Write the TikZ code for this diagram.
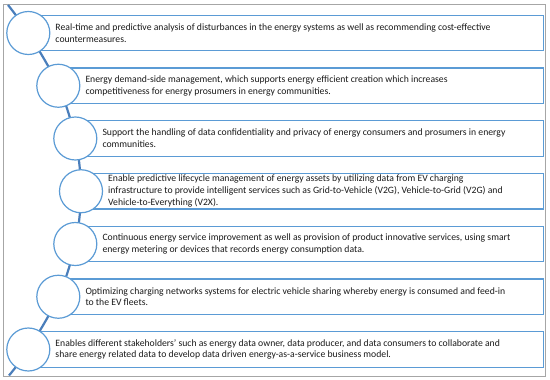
\documentclass[tikz,border=0pt]{standalone}
\usepackage{fontspec}
\setmainfont{Carlito}
\usetikzlibrary{positioning}
\definecolor{cardblue}{HTML}{5B9BD5}
\definecolor{spineblue}{HTML}{4A7EBB}
\definecolor{framegray}{HTML}{A6A6A6}
\definecolor{notegray}{HTML}{1A1A1A}
\begin{document}
\begin{tikzpicture}[
  x=1pt, y=-1pt,
  frame/.style={draw=framegray, line width=1pt},
  card/.style={rectangle, draw=cardblue, fill=white, line width=1.2pt,
               anchor=west, minimum height=35.5pt, inner sep=0pt},
  bead/.style={circle, draw=cardblue, fill=white, line width=1.2pt,
               minimum size=43pt, inner sep=0pt},
  spine/.style={draw=spineblue, line width=2.2pt},
  note/.style={align=left, inner sep=0pt, text=notegray,
               font=\fontsize{9.7}{11.8}\selectfont}
]
\useasboundingbox (0,0) rectangle (550,380);
\draw[frame] (3.5,4) rectangle (545,376.5);

\coordinate (top) at (8,5);
\coordinate (bot) at (9,375.5);
\coordinate (p1) at (28.3,33);
\coordinate (p2) at (58.3,85.75);
\coordinate (p3) at (75.3,138.5);
\coordinate (p4) at (81,191.25);
\coordinate (p5) at (75.3,244);
\coordinate (p6) at (58.3,296.75);
\coordinate (p7) at (28.3,349.5);

\node[card, minimum width=514.7pt] (b1) at (p1) {};
\node[card, minimum width=484.7pt] (b2) at (p2) {};
\node[card, minimum width=467.7pt] (b3) at (p3) {};
\node[card, minimum width=462pt] (b4) at (p4) {};
\node[card, minimum width=467.7pt] (b5) at (p5) {};
\node[card, minimum width=484.7pt] (b6) at (p6) {};
\node[card, minimum width=514.7pt] (b7) at (p7) {};

\draw[spine] plot[smooth, tension=0.55] coordinates
  {(top) (p1) (p2) (p3) (p4) (p5) (p6) (p7) (bot)};

\node[bead] (c1) at (p1) {};
\node[bead] (c2) at (p2) {};
\node[bead] (c3) at (p3) {};
\node[bead] (c4) at (p4) {};
\node[bead] (c5) at (p5) {};
\node[bead] (c6) at (p6) {};
\node[bead] (c7) at (p7) {};

\node[note, right=27pt of p1] (t1) {Real-time and predictive analysis of disturbances in the energy systems as well as recommending cost-effective\\ countermeasures.};
\node[note, right=27pt of p2] (t2) {Energy demand-side management, which supports energy efficient creation which increases\\ competitiveness for energy prosumers in energy communities.};
\node[note, right=27pt of p3] (t3) {Support the handling of data confidentiality and privacy of energy consumers and prosumers in energy\\ communities.};
\node[note, right=27pt of p4] (t4) {Enable predictive lifecycle management of energy assets by utilizing data from EV charging\\ infrastructure to provide intelligent services such as Grid-to-Vehicle (V2G), Vehicle-to-Grid (V2G) and\\ Vehicle-to-Everything (V2X).};
\node[note, right=27pt of p5] (t5) {Continuous energy service improvement as well as provision of product innovative services, using smart\\ energy metering or devices that records energy consumption data.};
\node[note, right=27pt of p6] (t6) {Optimizing charging networks systems for electric vehicle sharing whereby energy is consumed and feed-in\\ to the EV fleets.};
\node[note, right=27pt of p7] (t7) {Enables different stakeholders’ such as energy data owner, data producer, and data consumers to collaborate and\\ share energy related data to develop data driven energy-as-a-service business model.};
\end{tikzpicture}
\end{document}
